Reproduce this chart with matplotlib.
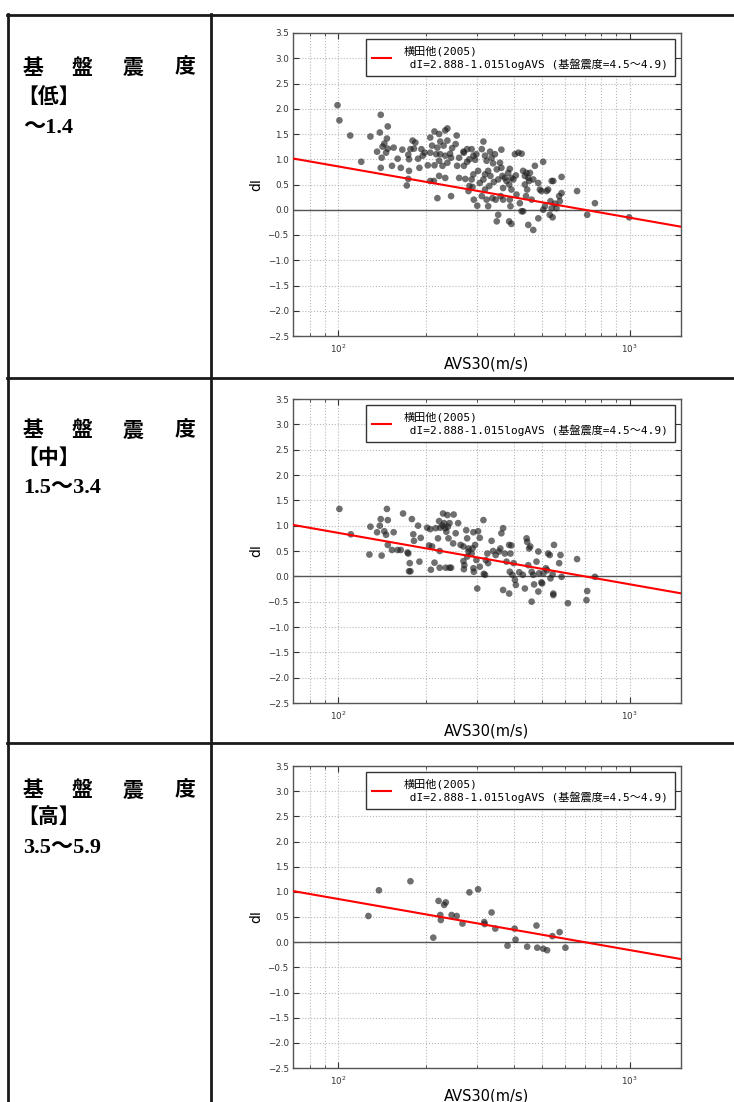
import numpy as np
import matplotlib
matplotlib.use("Agg")
import matplotlib.pyplot as plt
from matplotlib.lines import Line2D
from matplotlib.ticker import LogLocator, NullFormatter, MultipleLocator

# ---- data ----
# 基盤震度【低】 ~1.4
low_avs = [99.5, 101, 140, 110, 129, 148, 139, 120, 144, 142, 136, 147, 146, 141, 155, 140,
           153, 148, 160, 164, 166, 174, 180, 184, 177, 182, 175, 175, 174, 172, 188, 190,
           193, 198, 195, 207, 214, 210, 207, 203, 207, 213, 219, 222, 224, 219, 217, 224,
           214, 222, 228, 222, 233, 237, 237, 230, 233, 237, 233, 244, 246, 242, 244, 255,
           253, 260, 256, 260, 269, 277, 270, 277, 280, 282, 273, 282, 270,
           287, 291, 295, 298, 291, 287, 302, 289, 306, 292, 300, 311, 315, 311, 319, 323,
           319, 327, 315, 323, 327, 330, 319, 332, 336, 340, 345, 350, 354, 333, 342, 338,
           347, 354, 350, 363, 359, 363, 366, 368, 361, 368, 373, 378, 383, 388, 393, 386,
           393, 388, 390, 386, 393, 399, 404, 407, 409, 415, 426, 420, 426, 431, 437, 437,
           443, 445, 441, 449, 452, 455, 449, 461, 467, 431, 467, 473, 486, 492, 498, 505,
           505, 512, 486, 519, 525, 532, 540, 547, 535, 544, 540, 561, 573, 584, 584, 576,
           554, 660, 715, 760, 996]
low_di = [2.07, 1.77, 1.88, 1.47, 1.45, 1.65, 1.53, 0.95, 1.31, 1.25, 1.15, 1.41, 1.13, 1.03, 1.23, 0.83,
          0.87, 1.21, 1.01, 0.83, 1.19, 1.09, 1.37, 1.33, 1.20, 1.21, 1.00, 0.77, 0.61, 0.48, 1.01, 0.83,
          1.20, 1.13, 1.07, 1.43, 1.55, 1.27, 1.13, 0.88, 0.57, 0.57, 0.23, 1.50, 1.35, 1.23, 1.10, 1.10,
          0.88, 0.97, 0.87, 0.67, 1.57, 1.61, 1.37, 1.27, 1.07, 0.93, 0.63, 0.27, 1.22, 1.11, 1.03, 1.47,
          1.30, 1.03, 0.87, 0.63, 1.15, 1.20, 0.87, 0.95, 0.37, 0.47, 0.61, 1.00, 1.13,
          1.20, 1.07, 0.99, 1.10, 0.70, 0.60, 0.77, 0.45, 0.53, 0.20, 0.08, 0.27, 1.35, 1.20, 1.07, 0.97,
          0.70, 0.77, 0.60, 0.20, 0.07, 0.47, 0.40, 1.15, 1.03, 0.92, 1.10, 0.80, 0.60, 0.67, 0.55, 0.23,
          0.20, -0.10, -0.23, 1.19, 0.93, 0.83, 0.67, 0.43, 0.27, 0.20, 0.63, 0.57, 0.73, 0.81, 0.63, 0.50,
          0.40, 0.20, 0.07, -0.23, -0.28, 0.60, 1.10, 0.68, 0.30, 1.13, 1.11, 0.13, -0.03, 0.77, 0.67, 0.50,
          0.73, 0.40, 0.27, 0.63, 0.57, 0.73, -0.30, 0.20, -0.40, -0.03, 0.60, 0.87, 0.53, 0.40, 0.37, 0.95,
          0.00, 0.07, -0.17, 0.37, 0.40, -0.10, 0.57, 0.57, 0.17, -0.15, 0.03, 0.03, 0.27, 0.33, 0.65, 0.17,
          0.12, 0.37, -0.10, 0.13, -0.15]

# 基盤震度【中】 1.5~3.4
mid_avs = [101, 110.5, 129, 128, 140, 139, 141, 136, 147, 148, 144, 146, 148, 155, 153, 160,
           164, 167, 173, 174, 176, 175, 177, 179, 181, 182, 188, 192, 190, 202, 207, 205,
           210, 208, 214, 216, 222, 220, 223, 223, 224, 228, 229, 231, 233, 237, 235, 238,
           239, 241, 234, 241, 244, 249, 253, 258, 248, 263, 269, 269, 271, 270, 275, 277,
           280, 277, 280,
           315, 291, 302, 306, 295, 289, 287, 298, 291, 292, 306, 316, 319, 321, 325, 327,
           336, 340, 347, 356, 360, 368, 363, 373, 378, 386, 393, 390, 388, 396, 400, 300,
           368, 386, 404, 407, 418, 430, 437, 443, 445, 452, 456, 449, 461, 467, 470, 461,
           479, 486, 489, 486, 498, 501, 506, 516, 521, 525, 532, 535, 544, 547, 550, 547,
           573, 579, 584, 614, 660, 715, 711, 760]
mid_di = [1.33, 0.83, 0.98, 0.43, 1.13, 1.00, 0.41, 0.87, 1.33, 1.11, 0.89, 0.82, 0.62, 0.87, 0.52, 0.52,
          0.52, 1.24, 0.47, 0.45, 0.26, 0.10, 0.10, 1.13, 0.83, 0.70, 1.00, 0.76, 0.29, 0.96, 0.93, 0.61,
          0.59, 0.13, 0.27, 0.95, 1.09, 0.75, 0.50, 0.17, 0.96, 1.00, 1.24, 1.05, 0.95, 1.21, 0.88, 0.98,
          0.75, 1.05, 0.17, 0.17, 0.17, 1.22, 0.85, 1.05, 0.65, 0.62, 0.59, 0.30, 0.22, 0.14, 0.91, 0.75,
          0.49, 0.39, 0.55,
          1.11, 0.87, 0.89, 0.76, 0.62, 0.55, 0.45, 0.32, 0.16, 0.09, 0.19, 0.05, 0.03, 0.32, 0.45, 0.26,
          0.70, 0.50, 0.42, 0.49, 0.55, 0.95, 0.85, 0.45, 0.29, 0.62, 0.61, 0.45, 0.09, 0.03, 0.26, -0.24,
          -0.27, -0.34, -0.07, -0.17, 0.08, 0.03, -0.24, 0.75, 0.68, 0.55, 0.59, 0.22, 0.09, 0.03, -0.16, -0.50,
          0.29, 0.49, 0.06, -0.30, -0.12, -0.14, 0.06, 0.16, 0.12, 0.45, 0.42, -0.04, 0.04, -0.34, 0.62, -0.37,
          0.26, 0.42, -0.01, -0.53, 0.34, -0.29, -0.47, -0.01]

# 基盤震度【高】 3.5~5.9
high_avs = [127, 138, 177, 212, 221, 224, 225, 231, 234, 245, 255, 267, 282, 302, 317,
            318, 336, 346, 381, 403, 406, 445, 479, 482, 505, 521, 543, 575, 602]
high_di = [0.52, 1.03, 1.21, 0.09, 0.82, 0.54, 0.44, 0.74, 0.79, 0.54, 0.52, 0.37, 0.99, 1.05, 0.40,
           0.36, 0.59, 0.27, -0.07, 0.27, 0.05, -0.09, 0.33, -0.11, -0.13, -0.16, 0.12, 0.20, -0.11]

panels = [(low_avs, low_di), (mid_avs, mid_di), (high_avs, high_di)]
row_titles = ["【低】", "【中】", "【高】"]
row_ranges = ["～1.4", "1.5～3.4", "3.5～5.9"]
header_chars = ["基", "盤", "震", "度"]

# 横田他(2005): dI = 2.888 - 1.015 log(AVS)
fit_a, fit_b = 2.888, 1.015
fit_label = "横田他(2005)\n dI=2.888-1.015logAVS (基盤震度=4.5～4.9)"
xlim = (70, 1500)
ylim = (-2.5, 3.5)

# ---- layout (pixels of a 734x1102 canvas) ----
W, H = 734, 1102
fx = lambda px: px / W
fy = lambda py: 1 - py / H
axes_px = [(293, 33, 681, 336), (293, 399, 681, 703), (293, 766, 681, 1068)]
row_lines = [15, 378, 743]
text_rows = [(67, 97, 128), (430, 457, 488), (790, 816, 848)]
char_x = [33, 82, 133, 185]

fig = plt.figure(figsize=(W / 100, H / 100), dpi=100)

# table borders
lk = dict(color="#1a1a1a", lw=2, transform=fig.transFigure)
for y in row_lines:
    fig.add_artist(Line2D([fx(7), 1], [fy(y), fy(y)], **lk))
for x in (8, 211):
    fig.add_artist(Line2D([fx(x), fx(x)], [fy(14), 0], **lk))

cjk = ["Noto Sans CJK JP", "DejaVu Sans"]
serif = ["Liberation Serif", "Noto Sans CJK JP"]
for (yh, yb, yr), title, rng in zip(text_rows, row_titles, row_ranges):
    for ch, cx in zip(header_chars, char_x):
        fig.text(fx(cx), fy(yh), ch, ha="center", va="center", fontsize=15,
                 fontweight="bold", family=cjk)
    fig.text(fx(17), fy(yb), title, ha="left", va="center", fontsize=15,
             fontweight="bold", family=cjk)
    fig.text(fx(23), fy(yr), rng, ha="left", va="center", fontsize=16,
             fontweight="bold", family=serif)

xs = np.array(xlim, dtype=float)
for (x0, y0, x1, y1), (avs, di) in zip(axes_px, panels):
    ax = fig.add_axes([fx(x0), fy(y1), fx(x1) - fx(x0), (y1 - y0) / H])
    ax.set_xscale("log")
    ax.set_xlim(*xlim)
    ax.set_ylim(*ylim)
    ax.scatter(avs, di, s=23, color="#1e1e1e", alpha=0.64, edgecolors="none", zorder=3)
    ax.plot(xs, fit_a - fit_b * np.log10(xs), color="red", lw=1.5, label=fit_label, zorder=4)
    ax.axhline(0, color="#555555", lw=1, zorder=2)

    ax.yaxis.set_major_locator(MultipleLocator(0.5))
    ax.xaxis.set_major_locator(LogLocator(base=10))
    ax.xaxis.set_minor_locator(LogLocator(base=10, subs=np.arange(2, 10)))
    ax.xaxis.set_minor_formatter(NullFormatter())
    ax.grid(True, which="both", axis="x", color="#b8b8b8", ls=":", lw=0.8)
    ax.grid(True, which="major", axis="y", color="#b8b8b8", ls=":", lw=0.8)
    ax.tick_params(which="both", direction="in", top=True, right=True,
                   labelsize=6.3, colors="#333333", pad=3)
    ax.tick_params(axis="x", which="major", pad=5)
    ax.tick_params(which="major", length=4)
    ax.tick_params(which="minor", length=2)
    for sp in ax.spines.values():
        sp.set_color("#555555")
        sp.set_linewidth(1)
    ax.set_xlabel("AVS30(m/s)", fontsize=10.5, labelpad=1)
    ax.set_ylabel("dI", fontsize=10, labelpad=3)
    ax.legend(loc="upper right", fancybox=False, framealpha=1, edgecolor="#333333",
              borderaxespad=0.55, handlelength=1.7, handletextpad=1.1, borderpad=0.6,
              prop={"family": ["DejaVu Sans Mono", "Noto Sans CJK JP"], "size": 8})

fig.savefig("out.png", dpi=100)
